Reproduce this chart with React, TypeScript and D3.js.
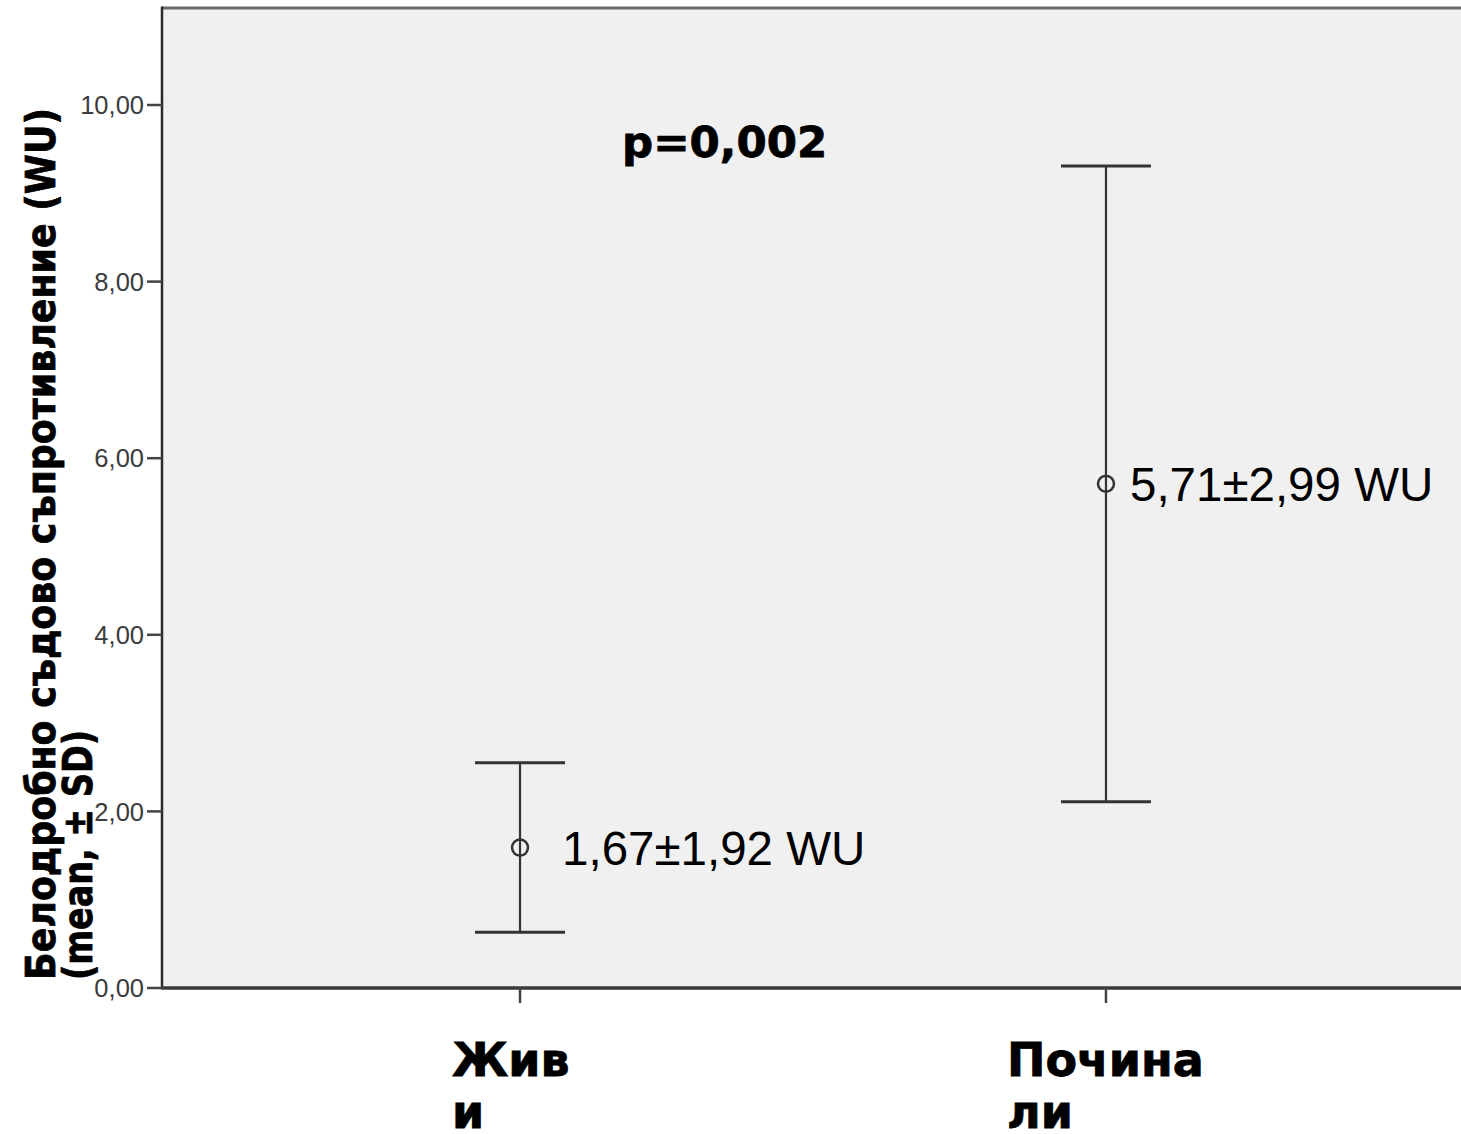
import React, { useLayoutEffect, useRef, useState } from "react";
import * as d3 from "d3";

const categories = ["Живи", "Почина ли"];
const categoryLines = [["Жив", "и"], ["Почина", "ли"]];
const means = [1.59, 5.71];
const lowers = [0.63, 2.11];
const uppers = [2.55, 9.31];
const valueLabels = ["1,67±1,92 WU", "5,71±2,99 WU"];
const yTicks = [0, 2, 4, 6, 8, 10];
const pLabel = "p=0,002";
const yTitle1 = "Белодробно съдово съпротивление (WU)";
const yTitle2 = "(mean, ± SD)";

const W = 1461;
const H = 1134;
const plotLeft = 162;
const plotRight = 1464;
const plotTop = 8;
const plotBottom = 988;

function FitText({
  text,
  target,
  tx,
  ty,
  fontSize,
}: {
  text: string;
  target: number;
  tx: number;
  ty: number;
  fontSize: number;
}) {
  const ref = useRef<SVGTextElement>(null);
  const [k, setK] = useState(0.85);
  useLayoutEffect(() => {
    if (ref.current) {
      const len = ref.current.getComputedTextLength();
      if (len > 0) setK(target / len);
    }
  }, [text, target]);
  return (
    <g transform={`translate(${tx},${ty}) rotate(-90) scale(${k},1)`}>
      <text
        ref={ref}
        x={0}
        y={0}
        fontFamily="'DejaVu Sans', sans-serif"
        fontWeight="bold"
        fontSize={fontSize}
        fill="#000"
        stroke="#000"
        strokeWidth={0.8}
      >
        {text}
      </text>
    </g>
  );
}

export default function App() {
  const y = d3.scaleLinear().domain([0, 10]).range([plotBottom, 105]);
  const yTopVal = y.invert(plotTop);
  const x = d3
    .scalePoint<string>()
    .domain(categories)
    .range([plotLeft, plotRight])
    .padding(0.611);

  const fmt = (v: number) => d3.format(".2f")(v).replace(".", ",");
  const labelLeftOffsets = [68, 99];
  const valueLabelOffsets = [42, 24];
  const capHalf = 45;
  const tickColor = "#333";

  return (
    <svg
      width={W}
      height={H}
      style={{ position: "absolute", left: 0, top: 0, background: "#fff" }}
      fontFamily="'Liberation Sans', Arial, sans-serif"
    >
      {/* plot background */}
      <rect
        x={plotLeft}
        y={y(yTopVal)}
        width={plotRight - plotLeft + 10}
        height={plotBottom - y(yTopVal)}
        fill="#f0f0f0"
      />
      {/* frame */}
      <line x1={plotLeft} x2={W} y1={plotTop} y2={plotTop} stroke="#6a6a6a" strokeWidth={3} />
      <line x1={plotLeft} x2={plotLeft} y1={plotTop - 1.5} y2={plotBottom} stroke="#2a2a2a" strokeWidth={2.5} />
      <line x1={plotLeft - 1} x2={W} y1={plotBottom} y2={plotBottom} stroke="#3a3a3a" strokeWidth={3.5} />

      {/* y ticks */}
      {yTicks.map((t) => (
        <g key={t}>
          <line x1={plotLeft - 15} x2={plotLeft} y1={y(t)} y2={y(t)} stroke="#444" strokeWidth={2.5} />
          <text
            x={plotLeft - 18}
            y={y(t)}
            dy="0.36em"
            textAnchor="end"
            fontSize={25.5}
            fill="#3c3c3c"
          >
            {fmt(t)}
          </text>
        </g>
      ))}

      {/* x ticks and labels */}
      {categories.map((c, i) => (
        <g key={c}>
          <line
            x1={x(c)!}
            x2={x(c)!}
            y1={plotBottom}
            y2={plotBottom + 15}
            stroke="#444"
            strokeWidth={2.5}
          />
          {categoryLines[i].map((ln, j) => (
            <text
              key={j}
              x={x(c)! - labelLeftOffsets[i]}
              y={1076 + j * 52}
              fontFamily="'DejaVu Sans', sans-serif"
              fontWeight="bold"
              fontSize={46}
              fill="#000"
              stroke="#000"
              strokeWidth={0.8}
            >
              {ln}
            </text>
          ))}
        </g>
      ))}

      {/* error bars */}
      {categories.map((c, i) => {
        const cx = x(c)!;
        return (
          <g key={c} stroke={tickColor} fill="none">
            <line x1={cx} x2={cx} y1={y(uppers[i])} y2={y(lowers[i])} strokeWidth={2.2} />
            <line x1={cx - capHalf} x2={cx + capHalf} y1={y(uppers[i])} y2={y(uppers[i])} strokeWidth={3} />
            <line x1={cx - capHalf} x2={cx + capHalf} y1={y(lowers[i])} y2={y(lowers[i])} strokeWidth={3} />
            <circle cx={cx} cy={y(means[i])} r={8} strokeWidth={2.5} fill="none" />
            <text
              x={cx + valueLabelOffsets[i]}
              y={y(means[i])}
              dy="0.36em"
              fontSize={47.5}
              fill="#000"
              stroke="none"
            >
              {valueLabels[i]}
            </text>
          </g>
        );
      })}

      {/* p value */}
      <text
        x={622}
        y={157}
        fontFamily="'DejaVu Sans', sans-serif"
        fontWeight="bold"
        fontSize={43.5}
        fill="#000"
        stroke="#000"
        strokeWidth={0.8}
      >
        {pLabel}
      </text>

      {/* y axis title */}
      <FitText text={yTitle1} target={872} tx={55} ty={980} fontSize={41} />
      <FitText text={yTitle2} target={250} tx={92} ty={980} fontSize={41} />
    </svg>
  );
}
